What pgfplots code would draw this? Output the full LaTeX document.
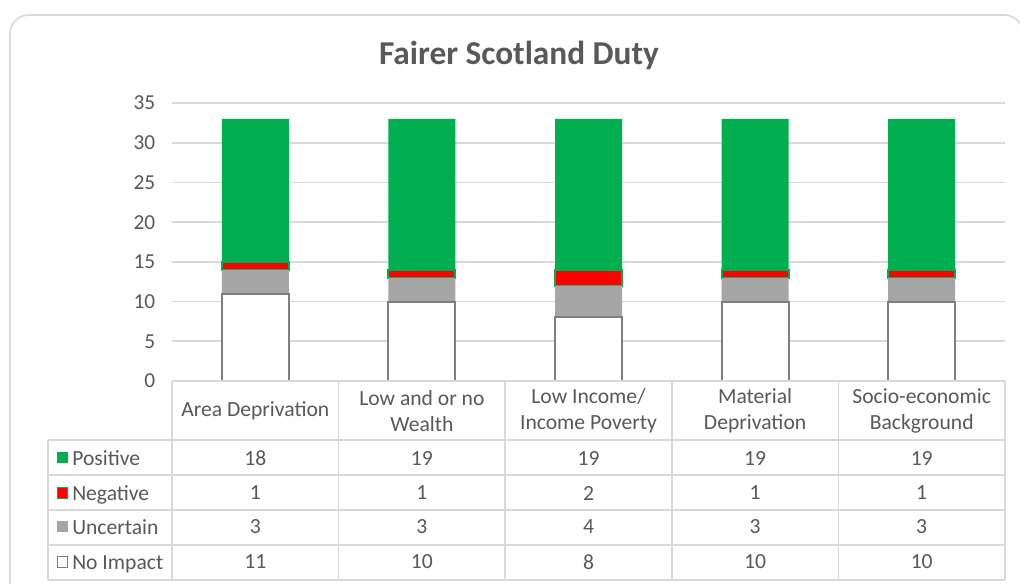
\documentclass[border=0pt]{standalone}
\usepackage{fontspec}
\setmainfont{Carlito}
\usepackage{pgfplots}
\pgfplotsset{compat=1.18}
\usepackage{pgfplotstable}

\definecolor{txt}{HTML}{595959}
\definecolor{gridc}{HTML}{D9D9D9}
\definecolor{posc}{HTML}{00B050}
\definecolor{negc}{HTML}{FF0000}
\definecolor{uncc}{HTML}{A6A6A6}
\definecolor{noimp}{HTML}{7F7F7F}

% columns: positive, negative, uncertain, no impact
\pgfplotstableread{
x pos neg unc none
0 18 1 3 11
1 19 1 3 10
2 19 2 4 8
3 19 1 3 10
4 19 1 3 10
}\datatable

\begin{document}
\begin{tikzpicture}
\begin{scope}[x=0.75pt,y=-0.75pt]
  \useasboundingbox (0,0) rectangle (1020,583);
  \fill[white] (0,0) rectangle (1020,583);
  \begin{scope}
    \clip (0,0) rectangle (1020,583);
    \draw[gridc, line width=1.2pt, rounded corners=14pt] (10,15) rectangle (1023,640);
  \end{scope}
  \node[txt, font=\fontsize{25}{29}\selectfont\bfseries] at (519,55) {Fairer Scotland Duty};
\end{scope}

\begin{axis}[
    at={(129pt,-285.75pt)}, anchor=south west,
    scale only axis, width=624.75pt, height=208.5pt,
    xmin=-0.5, xmax=4.5, ymin=0, ymax=35,
    ytick={0,5,...,35}, xtick=\empty,
    ymajorgrids, grid style={gridc, line width=1.2pt},
    axis line style={draw=none}, major tick length=0pt,
    yticklabel style={txt, font=\fontsize{16}{18}\selectfont, xshift=-9pt},
    /pgf/number format/assume math mode=true,
    ybar stacked, bar width=50.25pt, clip=false,
  ]
  \addplot[fill=white, draw=noimp, line width=1.5pt] table[x=x,y=none]{\datatable};
  \addplot[fill=uncc, draw=none] table[x=x,y=unc]{\datatable};
  \addplot[fill=negc, draw=posc, line width=1.5pt] table[x=x,y=neg]{\datatable};
  \addplot[fill=posc, draw=none] table[x=x,y=pos]{\datatable};
\end{axis}

\begin{scope}[x=0.75pt,y=-0.75pt,
    every node/.style={txt, font=\fontsize{16.2}{19.5}\selectfont}]
  % data table grid
  \begin{scope}[gridc, line width=1.2pt]
    \draw (172,381) -- (1005,381);
    \foreach \y in {440,475,510,545,580} \draw (48,\y) -- (1005,\y);
    \foreach \x in {172,338.6,505.2,671.8,838.4,1005} \draw (\x,381) -- (\x,580);
    \draw (48,440) -- (48,580);
  \end{scope}
  % category headers
  \node[align=center] at (255.3,411) {Area Deprivation};
  \node[align=center] at (421.9,411) {Low and or no\\Wealth};
  \node[align=center] at (588.5,411) {Low Income/\\Income Poverty};
  \node[align=center] at (755.1,411) {Material\\Deprivation};
  \node[align=center] at (921.7,411) {Socio-economic\\Background};
  % legend keys
  \fill[posc] (57,452) rectangle (68,463);
  \filldraw[fill=negc, draw=posc, line width=1.2pt] (57.5,487.5) rectangle (67.5,498.5);
  \fill[uncc] (57,521) rectangle (68,532);
  \filldraw[fill=white, draw=noimp, line width=1.2pt] (57.5,556.5) rectangle (67.5,567.5);
  \node[anchor=base west, inner sep=0pt] at (72,465) {Positive};
  \node[anchor=base west, inner sep=0pt] at (72,500) {Negative};
  \node[anchor=base west, inner sep=0pt] at (72,534) {Uncertain};
  \node[anchor=base west, inner sep=0pt] at (72,569) {No Impact};
  % values
  \foreach \r in {0,...,4}{
    \pgfmathsetmacro\cx{255.3+166.6*\r}
    \pgfplotstablegetelem{\r}{pos}\of\datatable
    \node at (\cx,458) {\pgfplotsretval};
    \pgfplotstablegetelem{\r}{neg}\of\datatable
    \node at (\cx,493) {\pgfplotsretval};
    \pgfplotstablegetelem{\r}{unc}\of\datatable
    \node at (\cx,527) {\pgfplotsretval};
    \pgfplotstablegetelem{\r}{none}\of\datatable
    \node at (\cx,562) {\pgfplotsretval};
  }
\end{scope}
\end{tikzpicture}
\end{document}
